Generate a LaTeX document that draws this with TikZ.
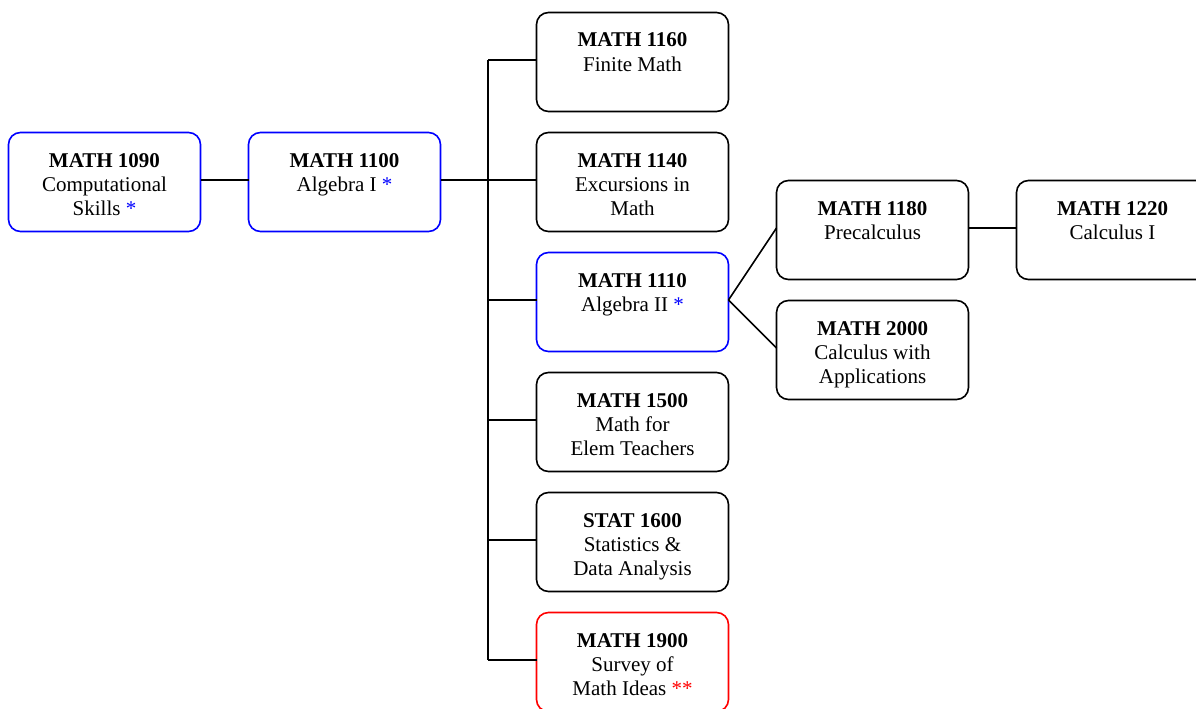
\documentclass[tikz,border=0pt]{standalone}
\usepackage{fontspec}
\setmainfont{Liberation Serif}
\definecolor{bblue}{RGB}{0,0,255}
\definecolor{rred}{RGB}{255,0,0}
\newcommand\crstext[1]{\begin{minipage}[c][99pt][t]{190pt}\centering\fontsize{21}{24}\selectfont\rule{0pt}{34.5pt}#1\end{minipage}}
\tikzset{
  course/.style={draw, rounded corners=12pt, line width=1.6pt, minimum width=192pt, minimum height=99pt, inner sep=0pt, outer sep=0pt, anchor=center},
  bluebox/.style={course, draw=bblue},
  redbox/.style={course, draw=rred},
  conn/.style={line width=1.6pt, black}
}
\begin{document}
\begin{tikzpicture}[x=1pt,y=-1pt]
\clip (0,0) rectangle (1196,709);
\fill[white] (0,0) rectangle (1196,709);
\node[bluebox] (m1090) at (104.5,182) {\crstext{\textbf{MATH 1090}\\Computational\\Skills {\color{bblue}*}}};
\node[bluebox] (m1100) at (344.5,182) {\crstext{\textbf{MATH 1100}\\Algebra I {\color{bblue}*}}};
\node[course] (m1160) at (632.5,62) {\crstext{\textbf{MATH 1160}\\Finite Math}};
\node[course] (m1140) at (632.5,182) {\crstext{\textbf{MATH 1140}\\Excursions in\\Math}};
\node[bluebox] (m1110) at (632.5,302) {\crstext{\textbf{MATH 1110}\\Algebra II {\color{bblue}*}}};
\node[course] (m1500) at (632.5,422) {\crstext{\textbf{MATH 1500}\\Math for\\Elem Teachers}};
\node[course] (s1600) at (632.5,542) {\crstext{\textbf{STAT 1600}\\Statistics \&\\Data Analysis}};
\node[redbox] (m1900) at (632.5,662) {\crstext{\textbf{MATH 1900}\\Survey of\\Math Ideas {\color{rred}**}}};
\node[course] (m1180) at (872.5,230) {\crstext{\textbf{MATH 1180}\\Precalculus}};
\node[course] (m2000) at (872.5,350) {\crstext{\textbf{MATH 2000}\\Calculus with\\Applications}};
\node[course] (m1220) at (1112.5,230) {\crstext{\textbf{MATH 1220}\\Calculus I}};
\coordinate (bt) at (488,60);
\coordinate (bb) at (488,660);
\coordinate (b1110) at (488,300);
\coordinate (b1500) at (488,420);
\coordinate (b1600) at (488,540);
\draw[conn] ([yshift=2pt]m1090.east) -- ([yshift=2pt]m1100.west);
\draw[conn] ([yshift=2pt]m1100.east) -- ([yshift=2pt]m1140.west);
\draw[conn] (bt) -- (bb);
\draw[conn] (bt) -- ([yshift=2pt]m1160.west);
\draw[conn] (b1110) -- ([yshift=2pt]m1110.west);
\draw[conn] (b1500) -- ([yshift=2pt]m1500.west);
\draw[conn] (b1600) -- ([yshift=2pt]s1600.west);
\draw[conn] (bb) -- ([yshift=2pt]m1900.west);
\draw[conn] ([yshift=2pt]m1110.east) -- ([yshift=2pt]m1180.west);
\draw[conn] ([yshift=2pt]m1110.east) -- ([yshift=2pt]m2000.west);
\draw[conn] ([yshift=2pt]m1180.east) -- ([yshift=2pt]m1220.west);
\end{tikzpicture}
\end{document}
